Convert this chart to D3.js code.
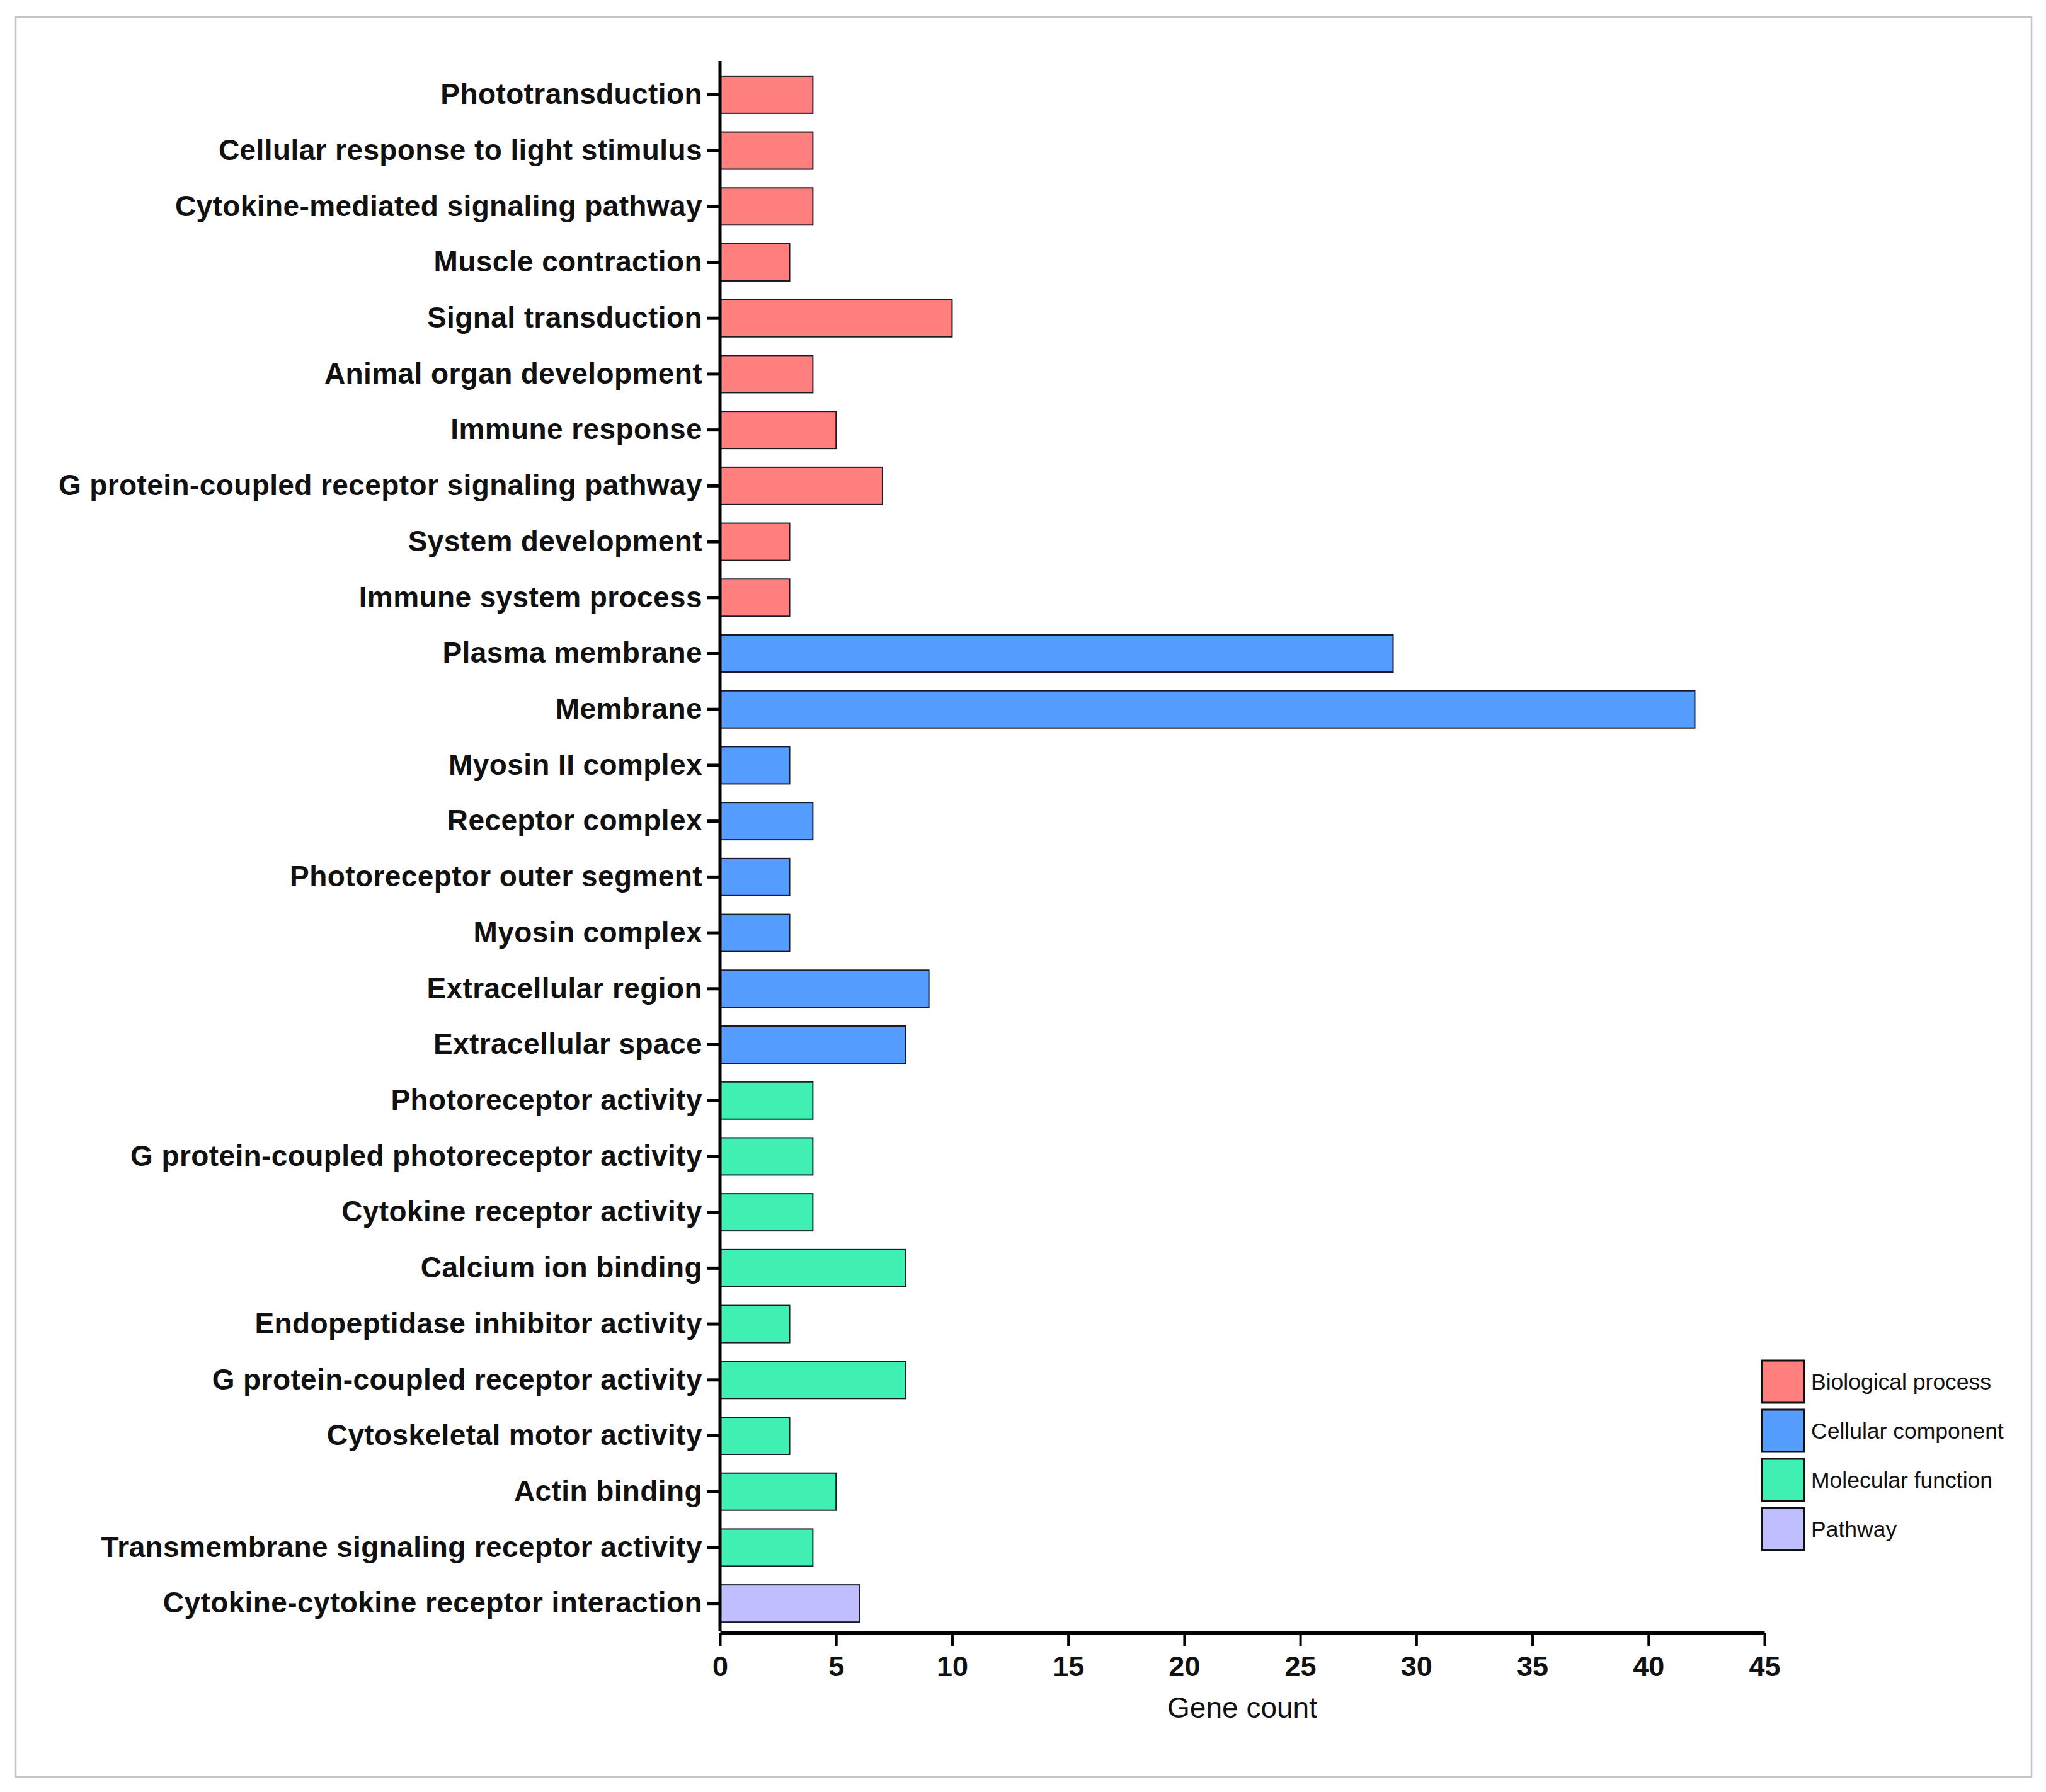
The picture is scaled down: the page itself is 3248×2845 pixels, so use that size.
<!DOCTYPE html>
<html>
<head>
<meta charset="utf-8">
<script src="https://cdn.jsdelivr.net/npm/d3@7"></script>
<style>
  html, body { margin: 0; padding: 0; background: #fff; }
  svg { display: block; }
</style>
</head>
<body>
<script>
const categories = [
  "Phototransduction",
  "Cellular response to light stimulus",
  "Cytokine-mediated signaling pathway",
  "Muscle contraction",
  "Signal transduction",
  "Animal organ development",
  "Immune response",
  "G protein-coupled receptor signaling pathway",
  "System development",
  "Immune system process",
  "Plasma membrane",
  "Membrane",
  "Myosin II complex",
  "Receptor complex",
  "Photoreceptor outer segment",
  "Myosin complex",
  "Extracellular region",
  "Extracellular space",
  "Photoreceptor activity",
  "G protein-coupled photoreceptor activity",
  "Cytokine receptor activity",
  "Calcium ion binding",
  "Endopeptidase inhibitor activity",
  "G protein-coupled receptor activity",
  "Cytoskeletal motor activity",
  "Actin binding",
  "Transmembrane signaling receptor activity",
  "Cytokine-cytokine receptor interaction"
];
const geneCounts = [4, 4, 4, 3, 10, 4, 5, 7, 3, 3, 29, 42, 3, 4, 3, 3, 9, 8, 4, 4, 4, 8, 3, 8, 3, 5, 4, 6];
const groups = [
  "Biological process","Biological process","Biological process","Biological process","Biological process",
  "Biological process","Biological process","Biological process","Biological process","Biological process",
  "Cellular component","Cellular component","Cellular component","Cellular component","Cellular component",
  "Cellular component","Cellular component","Cellular component",
  "Molecular function","Molecular function","Molecular function","Molecular function","Molecular function",
  "Molecular function","Molecular function","Molecular function","Molecular function",
  "Pathway"
];
const legendNames = ["Biological process", "Cellular component", "Molecular function", "Pathway"];
const legendColors = ["#FF7F7F", "#559CFF", "#40F0B2", "#BFBFFF"];
const xTicks = [0, 5, 10, 15, 20, 25, 30, 35, 40, 45];
const xTitle = "Gene count";

const W = 3248, H = 2845;
const svg = d3.select("body").append("svg").attr("width", W).attr("height", H);

// outer frame
svg.append("rect").attr("x", 25).attr("y", 27).attr("width", 3200).attr("height", 2794)
  .attr("fill", "none").attr("stroke", "#c4c4c4").attr("stroke-width", 2.5);

const x0 = 1143, x1 = 2801, yTop = 106, yBot = 2590, axisTop = 97;
const x = d3.scaleLinear().domain([0, 45]).range([x0, x1]);
const y = d3.scaleBand().domain(categories).range([yTop, yBot]).paddingInner(0.335).paddingOuter(0.1675);
const color = d3.scaleOrdinal().domain(legendNames).range(legendColors);

const data = categories.map((c, i) => ({ cat: c, v: geneCounts[i], g: groups[i] }));

// bars
svg.append("g").selectAll("rect").data(data).join("rect")
  .attr("x", x(0))
  .attr("y", d => y(d.cat))
  .attr("width", d => x(d.v) - x(0))
  .attr("height", y.bandwidth())
  .attr("fill", d => color(d.g))
  .attr("stroke", "#1a1a2a")
  .attr("stroke-width", 2);

// y axis
const yAxis = svg.append("g").attr("transform", `translate(${x0},0)`)
  .call(d3.axisLeft(y).tickSize(20).tickSizeOuter(0).tickPadding(8));
yAxis.select(".domain").attr("d", `M0,${axisTop}V${yBot}`)
  .attr("stroke", "#000").attr("stroke-width", 5);
yAxis.selectAll(".tick line").attr("stroke", "#000").attr("stroke-width", 5);
yAxis.selectAll(".tick text")
  .attr("fill", "#111")
  .style("font-family", "'Liberation Sans', Arial, sans-serif")
  .style("font-weight", "bold")
  .style("font-size", "46px")
  .style("letter-spacing", "0.4px");

// x axis
const xAxis = svg.append("g").attr("transform", `translate(0,${yBot + 2})`)
  .call(d3.axisBottom(x).tickValues(xTicks).tickFormat(d3.format("d")).tickSize(21).tickSizeOuter(0).tickPadding(16));
xAxis.select(".domain").attr("stroke", "#000").attr("stroke-width", 7);
xAxis.selectAll(".tick line").attr("stroke", "#000").attr("stroke-width", 4);
xAxis.selectAll(".tick text")
  .attr("fill", "#111")
  .style("font-family", "'Liberation Sans', Arial, sans-serif")
  .style("font-weight", "bold")
  .style("font-size", "45px");

// x title
svg.append("text")
  .attr("x", (x0 + x1) / 2).attr("y", 2727)
  .attr("text-anchor", "middle")
  .attr("fill", "#111")
  .style("font-family", "'Liberation Sans', Arial, sans-serif")
  .style("font-size", "46px")
  .text(xTitle);

// legend
const lg = svg.append("g").attr("transform", "translate(2797,2160)");
const items = lg.selectAll("g").data(legendNames).join("g")
  .attr("transform", (d, i) => `translate(0,${i * 78})`);
items.append("rect").attr("width", 67).attr("height", 67)
  .attr("fill", d => color(d)).attr("stroke", "#111").attr("stroke-width", 3);
items.append("text").attr("x", 78).attr("y", 34).attr("dy", "0.35em")
  .attr("fill", "#111")
  .style("font-family", "'Liberation Sans', Arial, sans-serif")
  .style("font-size", "35.5px")
  .text(d => d);
</script>
</body>
</html>
